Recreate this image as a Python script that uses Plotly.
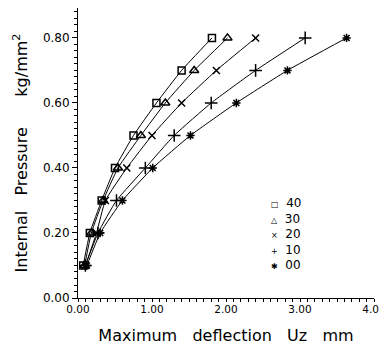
import plotly.graph_objects as go

pressure = [0.1, 0.2, 0.3, 0.4, 0.5, 0.6, 0.7, 0.8]
defl_40 = [0.07, 0.16, 0.32, 0.50, 0.75, 1.06, 1.40, 1.81]
defl_30 = [0.09, 0.18, 0.34, 0.54, 0.85, 1.18, 1.57, 2.02]
defl_20 = [0.10, 0.25, 0.37, 0.66, 1.00, 1.40, 1.87, 2.40]
defl_10 = [0.10, 0.27, 0.52, 0.91, 1.30, 1.80, 2.40, 3.07]
defl_00 = [0.12, 0.30, 0.60, 1.01, 1.52, 2.14, 2.83, 3.63]

series_names = ["40", "30", "20", "10", "00"]
series_vals = [defl_40, defl_30, defl_20, defl_10, defl_00]
symbols = ["square-open", "triangle-up-open", "x-thin-open", "cross-thin-open", "asterisk-open"]
legend_glyphs = ["\u25a1", "\u25b3", "\u00d7", "+", "\u2731"]
sizes = [7, 8, 7, 9, 7]

FONT = "DejaVu Sans"
fig = go.Figure()
for name, xs, sym, sz in zip(series_names, series_vals, symbols, sizes):
    fig.add_trace(go.Scatter(
        x=xs, y=pressure, mode="lines+markers", name=name, showlegend=False,
        line=dict(color="black", width=1, shape="spline", smoothing=0.4),
        marker=dict(symbol=sym, size=sz, color="black", line=dict(color="black", width=1.5)),
        cliponaxis=False,
    ))

legend_text = "<br>".join(
    f"<span style='font-size:8px'>{g}</span>\u00a0\u00a0{n}" for g, n in zip(legend_glyphs, series_names)
)
fig.add_annotation(
    text=legend_text, xref="paper", yref="paper", x=0.646, y=0.222,
    xanchor="left", yanchor="middle", align="left", showarrow=False,
    font=dict(family=FONT, size=12, color="black"),
)

# page body has an 8px default margin, so the figure is sized to fit the window
fig.update_layout(
    width=379, height=341,
    margin=dict(l=70, r=13, t=0, b=51),
    paper_bgcolor="white", plot_bgcolor="white",
    font=dict(family=FONT, color="black", size=11),
    showlegend=False,
    xaxis=dict(
        range=[0, 4], dtick=1, tickformat=".2f", showgrid=False, zeroline=False,
        showline=True, linecolor="black", linewidth=1,
        ticks="outside", ticklen=3, tickcolor="black",
        minor=dict(dtick=0.1, ticks="outside", ticklen=3, tickcolor="black"),
        tickfont=dict(size=10.5), ticklabelstandoff=-2,
        title=dict(text="Maximum\u00a0\u00a0\u00a0deflection\u00a0\u00a0\u00a0Uz\u00a0\u00a0\u00a0mm",
                   font=dict(size=16), standoff=16),
    ),
    yaxis=dict(
        range=[0, 0.892], tickvals=[0, 0.2, 0.4, 0.6, 0.8], tickformat=".2f",
        showgrid=False, zeroline=False,
        showline=True, linecolor="black", linewidth=1,
        ticks="outside", ticklen=5, tickcolor="black",
        minor=dict(dtick=0.02, ticks="outside", ticklen=3, tickcolor="black"),
        tickfont=dict(size=12),
        title=dict(text="Internal\u00a0\u00a0\u00a0Pressure\u00a0\u00a0\u00a0\u00a0\u00a0\u00a0kg/mm<sup>2</sup>",
                   font=dict(size=16), standoff=11),
    ),
)
fig.write_html("out.html")
